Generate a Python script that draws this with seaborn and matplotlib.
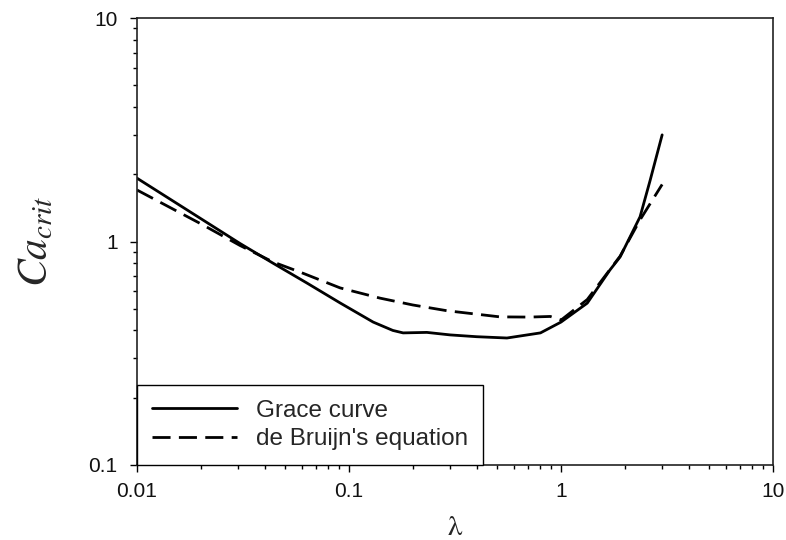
import matplotlib
matplotlib.use("Agg")
import matplotlib.pyplot as plt
import seaborn as sns
import pandas as pd
from matplotlib.ticker import LogLocator, NullFormatter, FixedLocator, FixedFormatter

# Data
grace_lambda = [0.01, 0.0306, 0.0438, 0.0633, 0.0908, 0.13, 0.161, 0.18, 0.233, 0.30, 0.40,
                0.556, 0.80, 1.0, 1.33, 1.70, 1.90, 2.36, 2.63, 3.0]
grace_ca = [1.92, 0.98, 0.80, 0.652, 0.531, 0.436, 0.40, 0.39, 0.392, 0.382, 0.375,
            0.37, 0.39, 0.436, 0.53, 0.745, 0.853, 1.29, 1.87, 3.0]

bruijn_lambda = [0.01, 0.02, 0.0306, 0.0438, 0.0587, 0.0908, 0.14, 0.20, 0.29, 0.515, 0.71,
                 0.89, 1.0, 1.33, 1.9, 2.36, 3.0]
bruijn_ca = [1.70, 1.20, 0.96, 0.81, 0.73, 0.62, 0.558, 0.52, 0.49, 0.46, 0.459,
             0.462, 0.445, 0.55, 0.86, 1.25, 1.80]

series_names = ["Grace curve", "de Bruijn's equation"]
x_ticks = [0.01, 0.1, 1, 10]
x_ticklabels = ["0.01", "0.1", "1", "10"]
y_ticks = [0.1, 1, 10]
y_ticklabels = ["0.1", "1", "10"]

sns.set_theme(style="ticks")
plt.rcParams["font.family"] = ["Liberation Sans", "DejaVu Sans"]
plt.rcParams["mathtext.fontset"] = "stix"

fig = plt.figure(figsize=(7.86, 5.40), dpi=100)
ax = fig.add_axes([137 / 786, 75 / 540, 636 / 786, 447 / 540])

df_g = pd.DataFrame({"x": grace_lambda, "y": grace_ca})
df_b = pd.DataFrame({"x": bruijn_lambda, "y": bruijn_ca})

sns.lineplot(data=df_g, x="x", y="y", ax=ax, color="black", lw=2.0,
             label=series_names[0], sort=False)
sns.lineplot(data=df_b, x="x", y="y", ax=ax, color="black", lw=2.0,
             label=series_names[1], sort=False)
ax.lines[1].set_dashes([6.5, 3])
for ln in ax.lines:
    ln.set_solid_joinstyle("round")
    ln.set_dash_joinstyle("round")

ax.set_xscale("log")
ax.set_yscale("log")
ax.set_xlim(0.01, 10)
ax.set_ylim(0.1, 10)

ax.xaxis.set_major_locator(FixedLocator(x_ticks))
ax.xaxis.set_major_formatter(FixedFormatter(x_ticklabels))
ax.yaxis.set_major_locator(FixedLocator(y_ticks))
ax.yaxis.set_major_formatter(FixedFormatter(y_ticklabels))
ax.xaxis.set_minor_locator(LogLocator(base=10, subs=range(2, 10), numticks=20))
ax.yaxis.set_minor_locator(LogLocator(base=10, subs=range(2, 10), numticks=20))
ax.xaxis.set_minor_formatter(NullFormatter())
ax.yaxis.set_minor_formatter(NullFormatter())

ax.tick_params(axis="both", which="major", direction="out", length=5, width=1,
               labelsize=15, color="black", labelcolor="#111111")
ax.tick_params(axis="x", which="major", pad=7)
ax.tick_params(axis="y", which="major", pad=9)
ax.tick_params(axis="both", which="minor", direction="out", length=3, width=1, color="black")
ax.tick_params(top=False, right=False, which="both")

for s in ax.spines.values():
    s.set_visible(True)
    s.set_color("#222222")
    s.set_linewidth(1.2)

ax.set_xlabel("λ", family="STIXGeneral", fontsize=21, labelpad=11)
ax.set_ylabel(r"$Ca_{crit}$", fontsize=30, labelpad=23)

leg = ax.legend(loc="lower left", borderaxespad=0, fancybox=False, frameon=True,
                fontsize=17.5, handlelength=3.5, handletextpad=0.8,
                borderpad=0.6, labelspacing=0.28)
leg.get_frame().set_edgecolor("black")
leg.get_frame().set_linewidth(1.0)
leg.get_frame().set_alpha(1)

fig.savefig("out.png", dpi=100)
